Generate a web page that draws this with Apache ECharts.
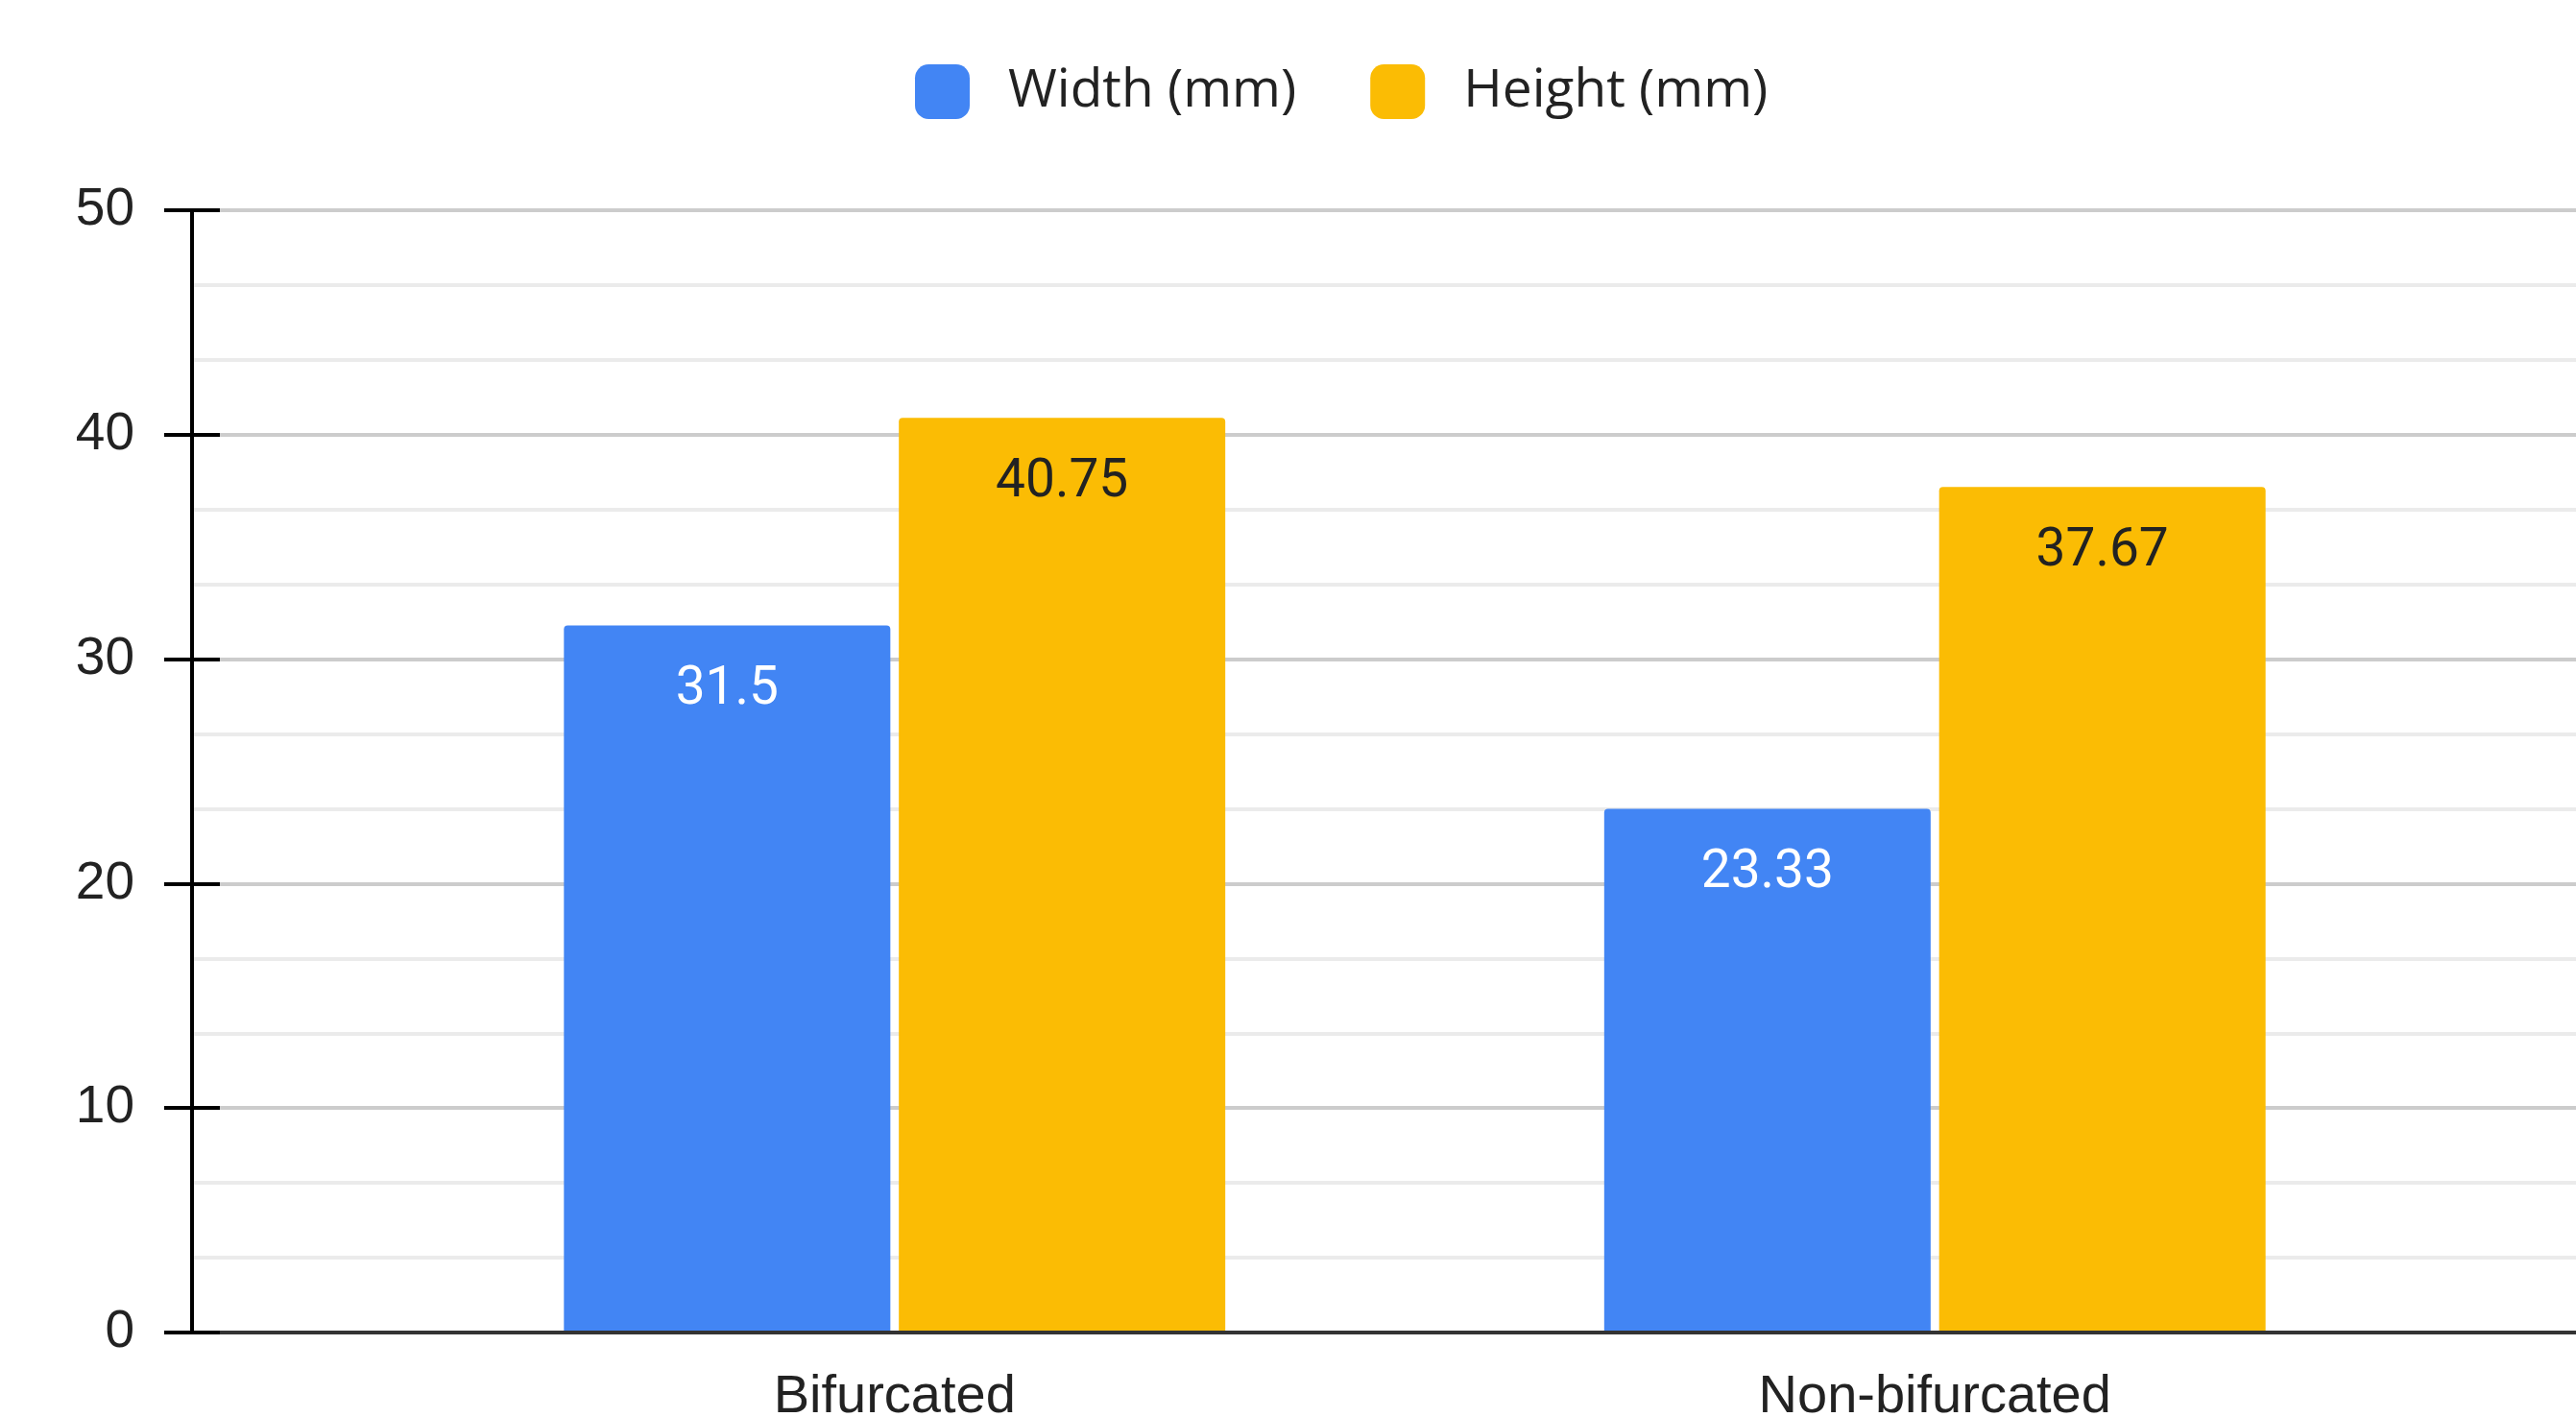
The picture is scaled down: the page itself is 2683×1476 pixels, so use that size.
<!DOCTYPE html>
<html>
<head>
<meta charset="utf-8">
<script src="https://cdn.jsdelivr.net/npm/echarts@6/dist/echarts.min.js"></script>
<style>
  html, body { margin: 0; padding: 0; background: #ffffff; }
  #chart { width: 2683px; height: 1476px; }
</style>
</head>
<body>
<div id="chart"></div>
<script>
// Aneurysm neck dimensions by type
const categories = ['Bifurcated', 'Non-bifurcated'];
const widthValues = [31.5, 23.33];
const heightValues = [40.75, 37.67];
const seriesNames = ['Width (mm)', 'Height (mm)'];
const yMin = 0, yMax = 50, yStep = 10;

const chart = echarts.init(document.getElementById('chart'));

const AXIS_FONT = '"Liberation Sans", Arial, sans-serif';
const LABEL_FONT = 'Roboto, sans-serif';

function barLabel(color) {
  return {
    show: true,
    position: 'insideTop',
    distance: 40,
    color: color,
    fontFamily: LABEL_FONT,
    fontSize: 55
  };
}

// every grid shares the same vertical extent; labels may sit outside it
const plotBox = { top: 219, bottom: 88, containLabel: false, outerBoundsMode: 'none' };

chart.setOption({
  animation: false,
  backgroundColor: '#ffffff',
  legend: {
    data: seriesNames,
    left: 948,
    top: 62,
    itemWidth: 57,
    itemHeight: 57,
    itemGap: 77,
    icon: 'roundRect',
    textStyle: {
      fontFamily: '"Open Sans", sans-serif',
      fontSize: 55,
      color: '#222222',
      padding: [0, 0, 0, 35]
    }
  },
  grid: [
    // frame: value axis, gridlines and baseline
    Object.assign({ left: 200, right: 0 }, plotBox),
    // bars and category labels
    Object.assign({ left: 390, right: 126 }, plotBox),
    // value-axis tick marks crossing the axis line
    Object.assign({ left: 200, right: 0 }, plotBox)
  ],
  xAxis: [
    {
      gridIndex: 0,
      type: 'category',
      data: [''],
      axisLine: { show: true, lineStyle: { color: '#333333', width: 4 } },
      axisTick: { show: false },
      axisLabel: { show: false },
      splitLine: { show: false },
      z: 5
    },
    {
      gridIndex: 1,
      type: 'category',
      data: categories,
      axisLine: { show: false },
      axisTick: { show: false },
      axisLabel: {
        margin: 40,
        fontFamily: AXIS_FONT,
        fontSize: 56,
        color: '#222222'
      },
      splitLine: { show: false }
    },
    {
      gridIndex: 2,
      type: 'category',
      data: [''],
      axisLine: { show: false },
      axisTick: { show: false },
      axisLabel: { show: false },
      splitLine: { show: false }
    }
  ],
  yAxis: [
    {
      gridIndex: 0,
      type: 'value',
      min: yMin,
      max: yMax,
      interval: yStep,
      axisLine: { show: true, lineStyle: { color: '#000000', width: 4 } },
      axisTick: { show: false },
      axisLabel: {
        margin: 60,
        fontFamily: AXIS_FONT,
        fontSize: 55,
        color: '#222222'
      },
      splitLine: { show: true, lineStyle: { color: '#cccccc', width: 4 } },
      minorTick: { show: false, splitNumber: 3 },
      minorSplitLine: { show: true, lineStyle: { color: '#ebebeb', width: 4 } },
      z: 0
    },
    {
      gridIndex: 1,
      type: 'value',
      min: yMin,
      max: yMax,
      interval: yStep,
      show: false,
      splitLine: { show: false }
    },
    {
      gridIndex: 2,
      type: 'value',
      min: yMin,
      max: yMax,
      interval: yStep,
      position: 'left',
      offset: -29,
      axisLine: { show: true, lineStyle: { color: 'rgba(0,0,0,0)', width: 1 } },
      axisTick: { show: true, length: 58, lineStyle: { color: '#000000', width: 4 } },
      axisLabel: { show: false },
      splitLine: { show: false },
      z: 6
    }
  ],
  series: [
    {
      name: seriesNames[0],
      type: 'bar',
      xAxisIndex: 1,
      yAxisIndex: 1,
      data: widthValues,
      barWidth: 340,
      barGap: '2.6%',
      itemStyle: { color: '#4285f4', borderRadius: [4, 4, 0, 0] },
      label: barLabel('#ffffff')
    },
    {
      name: seriesNames[1],
      type: 'bar',
      xAxisIndex: 1,
      yAxisIndex: 1,
      data: heightValues,
      barWidth: 340,
      barGap: '2.6%',
      itemStyle: { color: '#fbbc04', borderRadius: [4, 4, 0, 0] },
      label: barLabel('#222222')
    }
  ]
});
</script>
</body>
</html>
